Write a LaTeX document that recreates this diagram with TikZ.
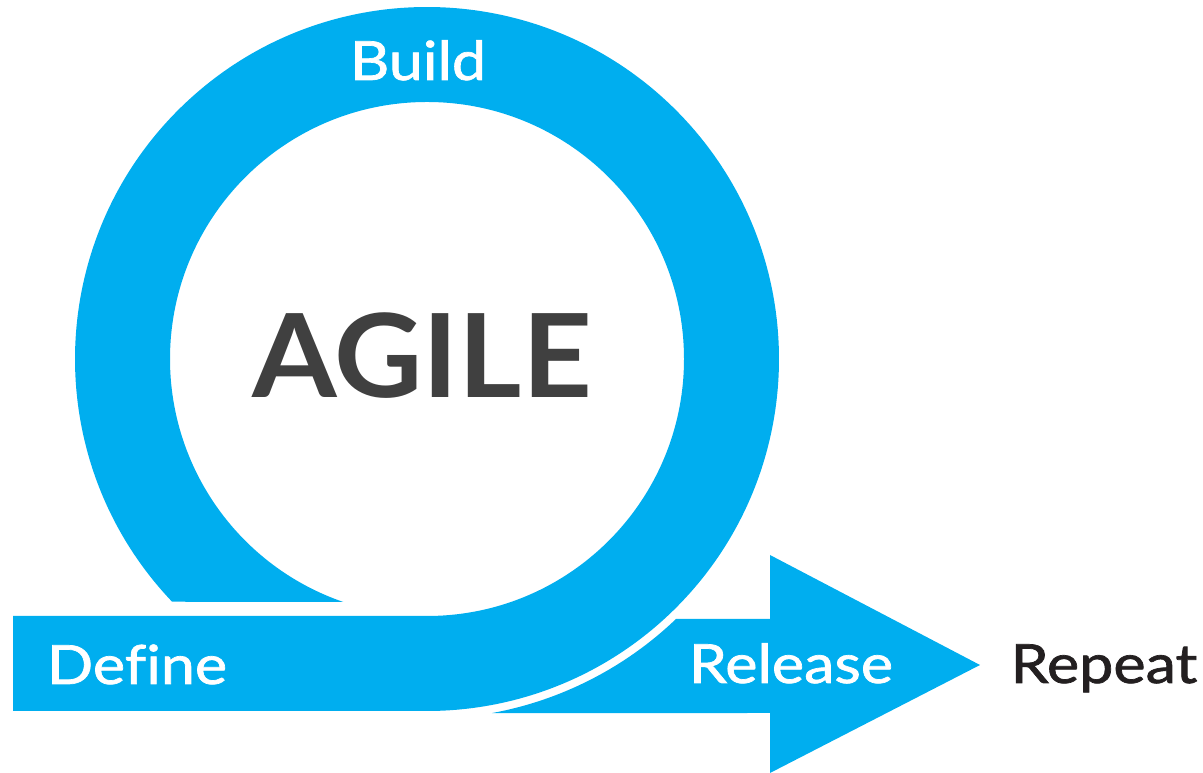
\documentclass[tikz,border=0pt]{standalone}
\usepackage{fontspec}
\setmainfont{Lato}
\newfontfamily\labelfont{Lato}[FakeStretch=1.13,FakeBold=1.3,Ligatures=NoCommon]
\newfontfamily\bigfont{Lato}[FakeStretch=1.05]
\usetikzlibrary{calc}
\definecolor{agileblue}{HTML}{00AEEF}
\definecolor{agilegray}{HTML}{404040}
\definecolor{repeatblack}{HTML}{231F20}
\begin{document}
\begin{tikzpicture}[x=1pt,y=1pt,
  band/.style={fill=agileblue,draw=none},
  whitelabel/.style={text=white,font=\labelfont\fontsize{54}{60}\selectfont,anchor=base,inner sep=0pt},
  darklabel/.style={text=repeatblack,font=\labelfont\fontsize{54}{60}\selectfont,anchor=base,inner sep=0pt},
  biglabel/.style={text=agilegray,font=\bigfont\bfseries\fontsize{116}{120}\selectfont,anchor=base,inner sep=0pt}]
\useasboundingbox (0,0) rectangle (1203,773);
\coordinate (C) at (427,414);
% ring with the Define bar
\fill[band] (13,157) -- (427,157)
  arc[start angle=-90,end angle=251,radius=257pt]
  -- ($(C)+(223.6:352pt)$)
  arc[start angle=223.6,end angle=-90,radius=352pt]
  -- (13,62) -- cycle;
% release arrow
\fill[band] ($(C)+(-79.6:360pt)$)
  arc[start angle=-79.6,end angle=-46.2,radius=360pt]
  -- (770,154) -- (770,218) -- (980,108) -- (770,0) -- (770,60) -- cycle;
% labels
\node[biglabel] (agile) at (422,375) {AGILE};
\node[whitelabel] (build) at (418,693) {Build};
\node[whitelabel] (define) at (137,89) {Define};
\node[whitelabel] (release) at (791,90) {Release};
\node[darklabel] (repeat) at (1104,90) {Repeat};
\end{tikzpicture}
\end{document}
